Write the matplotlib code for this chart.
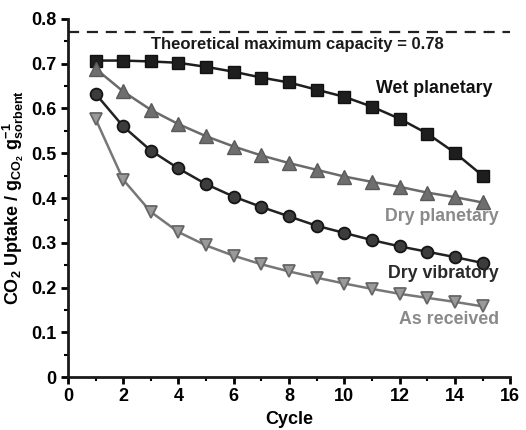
import matplotlib
matplotlib.use("Agg")
import matplotlib.pyplot as plt
from matplotlib.ticker import MultipleLocator

plt.rcParams['font.family'] = ['Liberation Sans', 'DejaVu Sans']
plt.rcParams['font.weight'] = 'bold'
plt.rcParams['mathtext.fontset'] = 'custom'
plt.rcParams['mathtext.rm'] = 'Liberation Sans:bold'
plt.rcParams['mathtext.bf'] = 'Liberation Sans:bold'
plt.rcParams['mathtext.it'] = 'Liberation Sans:bold'
plt.rcParams['mathtext.default'] = 'bf'

cycles = list(range(1, 16))
wet_planetary = [0.707, 0.707, 0.705, 0.702, 0.693, 0.682, 0.669, 0.658, 0.642, 0.626, 0.604, 0.577, 0.544, 0.501, 0.450]
dry_planetary = [0.689, 0.638, 0.597, 0.565, 0.538, 0.515, 0.495, 0.478, 0.463, 0.448, 0.436, 0.425, 0.412, 0.402, 0.390]
dry_vibratory = [0.633, 0.560, 0.506, 0.466, 0.431, 0.403, 0.380, 0.359, 0.338, 0.322, 0.306, 0.292, 0.280, 0.268, 0.255]
as_received = [0.577, 0.441, 0.369, 0.324, 0.294, 0.271, 0.252, 0.236, 0.222, 0.209, 0.197, 0.186, 0.177, 0.168, 0.158]
theoretical_max = 0.77
xticks = [0, 2, 4, 6, 8, 10, 12, 14, 16]
yticks = [0, 0.1, 0.2, 0.3, 0.4, 0.5, 0.6, 0.7, 0.8]

fig = plt.figure(figsize=(5.26, 4.30), dpi=100)
ax = fig.add_axes([0.129, 0.123, 0.841, 0.833])

ax.axhline(theoretical_max, color='#222222', ls=(0, (5, 3.5)), lw=1.6, clip_on=False)

ax.plot(cycles, wet_planetary, color='#1e1e1e', lw=1.8, marker='s', ms=8.5,
        mfc='#1e1e1e', mec='#111111', zorder=3)
ax.plot(cycles, dry_planetary, color='#6a6a6a', lw=1.8, marker='^', ms=9.5,
        mfc='#6e6e6e', mec='#5a5a5a', zorder=3)
ax.plot(cycles, dry_vibratory, color='#222222', lw=1.8, marker='o', ms=8.5,
        mfc='#3c3c3c', mec='#151515', mew=1.3, zorder=3)
ax.plot(cycles, as_received, color='#777777', lw=1.8, marker='v', ms=9,
        mfc='#9a9a9a', mec='#666666', mew=1.3, zorder=3)

ax.text(8.3, 0.742, 'Theoretical maximum capacity = 0.78', ha='center', va='center',
        fontsize=12, fontweight='bold', color='#1a1a1a')
ax.text(15.36, 0.644, 'Wet planetary', ha='right', va='center', fontsize=12.8,
        fontweight='bold', color='#111111')
ax.text(15.6, 0.358, 'Dry planetary', ha='right', va='center', fontsize=12.8,
        fontweight='bold', color='#8a8a8a')
ax.text(15.6, 0.232, 'Dry vibratory', ha='right', va='center', fontsize=12.8,
        fontweight='bold', color='#2a2a2a')
ax.text(15.6, 0.128, 'As received', ha='right', va='center', fontsize=12.8,
        fontweight='bold', color='#8a8a8a')

ax.set_xlim(0, 16)
ax.set_ylim(0, 0.8)
ax.set_xticks(xticks)
ax.set_yticks(yticks)
ax.set_xticklabels([str(t) for t in xticks])
ax.set_yticklabels(['0'] + ['%.1f' % t for t in yticks[1:]])
ax.xaxis.set_minor_locator(MultipleLocator(1))
ax.yaxis.set_minor_locator(MultipleLocator(0.05))

for s in ['top', 'right']:
    ax.spines[s].set_visible(False)
for s in ['left', 'bottom']:
    ax.spines[s].set_linewidth(2)
    ax.spines[s].set_color('#1a1a1a')
ax.tick_params(which='major', direction='out', length=5, width=2, labelsize=13, pad=3)
ax.tick_params(which='minor', direction='out', length=3, width=1.5)
for lab in ax.get_xticklabels() + ax.get_yticklabels():
    lab.set_fontweight('bold')

ax.set_xlabel('Cycle', fontsize=13, fontweight='bold', labelpad=4)
ax.set_ylabel(r'CO$_2$ Uptake / g$_{CO_2}$ g$_{sorbent}^{-1}$', fontsize=13,
              fontweight='bold', labelpad=4)

fig.savefig('out.png', dpi=100)
